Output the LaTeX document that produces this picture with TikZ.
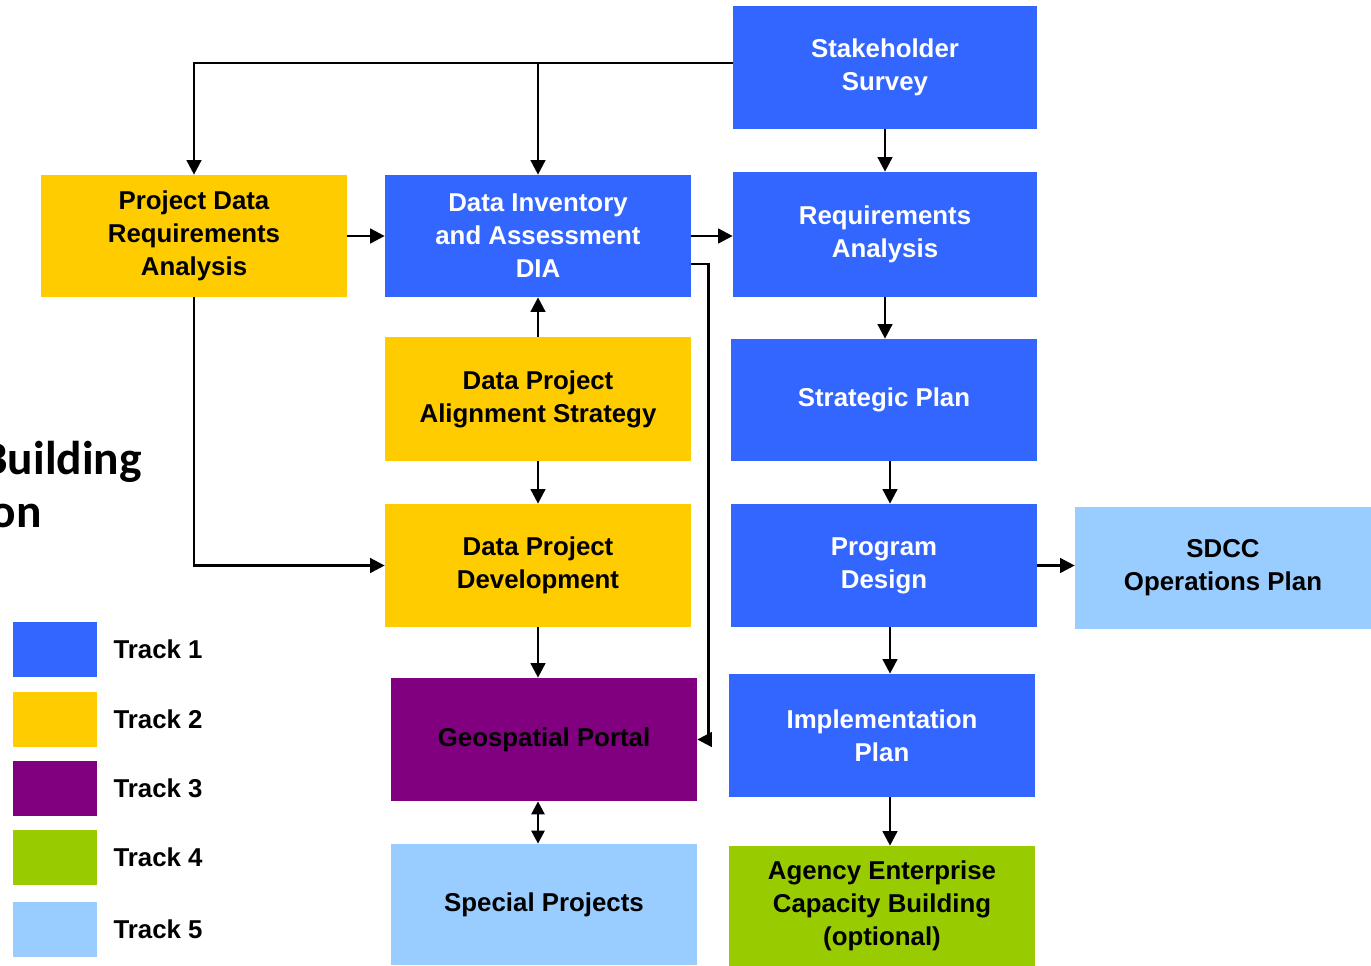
\documentclass[tikz,border=0pt]{standalone}
\usepackage{fontspec}
\setmainfont{Liberation Sans}
\newfontfamily\calibrifont{Carlito}
\usetikzlibrary{arrows.meta, positioning}
\definecolor{trackone}{HTML}{3366FF}
\definecolor{tracktwo}{HTML}{FFCC00}
\definecolor{trackthree}{HTML}{800080}
\definecolor{trackfour}{HTML}{99CC00}
\definecolor{trackfive}{HTML}{99CCFF}

\begin{document}
\begin{tikzpicture}[
    x=0.02cm, y=-0.02cm,
    every node/.style={align=center, font=\fontsize{14.7}{18.8}\selectfont\bfseries},
    box/.style={rectangle, fill=#1, inner sep=0pt, minimum width=6.12cm, minimum height=2.46cm},
    bluebox/.style={box=trackone, text=white},
    yellowbox/.style={box=tracktwo, text=black},
    lightbox/.style={box=trackfive, text=black},
    flow/.style={draw, line width=1.5pt, -{Triangle[length=2.9mm, width=2.9mm]}},
    dblflow/.style={draw, line width=1.5pt, {Triangle[length=2.6mm, width=2.6mm]}-{Triangle[length=2.6mm, width=2.6mm]}}
]
\useasboundingbox (0,0) rectangle (1371,965);

% Track 1 column
\node[bluebox, minimum width=6.08cm] (stake) at (885,67.5) {Stakeholder\\Survey};
\node[bluebox, minimum width=6.08cm, minimum height=2.5cm] (req) at (885,234.5) {Requirements\\Analysis};
\node[bluebox, minimum height=2.44cm] (strat) at (884,400) {Strategic Plan};
\node[bluebox] (prog) at (884,565.5) {Program\\Design};
\node[bluebox] (impl) at (882,735.5) {Implementation\\Plan};
\node[box=trackfour, minimum height=2.4cm] (agency) at (882,906) {Agency Enterprise\\Capacity Building\\(optional)};
\node[lightbox, minimum width=5.92cm, minimum height=2.44cm] (sdcc) at (1223,568) {SDCC\\Operations Plan};

% Track 2 and middle column
\node[yellowbox, minimum height=2.44cm] (pdra) at (194,236) {Project Data\\Requirements\\Analysis};
\node[bluebox, minimum height=2.44cm] (dia) at (538,236) {Data Inventory\\and Assessment\\DIA};
\node[yellowbox, minimum height=2.48cm] (align) at (538,399) {Data Project\\Alignment Strategy};
\node[yellowbox] (dev) at (538,565.5) {Data Project\\Development};
\node[box=trackthree, text=black] (geo) at (544,739.5) {Geospatial Portal};
\node[lightbox, minimum height=2.42cm] (spec) at (544,904.5) {Special Projects};

% Side title (cut off at the left edge)
\node[font=\calibrifont\bfseries\fontsize{27}{30}\selectfont, anchor=base east, inner sep=0pt] (sidetitleA) at (142,474) {Building};
\node[font=\calibrifont\bfseries\fontsize{27}{30}\selectfont, anchor=base east, inner sep=0pt] (sidetitleB) at (42,527) {on};

% Legend
\foreach \col/\lab/\yy [count=\i] in {trackone/Track 1/649.5, tracktwo/Track 2/719.5, trackthree/Track 3/788.5, trackfour/Track 4/857.5, trackfive/Track 5/929.5} {
  \node[box=\col, minimum width=1.68cm, minimum height=1.1cm] (leg\i) at (55,\yy) {};
  \node[right=0.2cm of leg\i] (legtext\i) {\lab};
}

% Survey feeds the left boxes
\coordinate (split) at ([yshift=0.09cm]stake.west -| dia.north);
\draw[flow] ([yshift=0.09cm]stake.west) -| (pdra.north);
\draw[flow] (split) -- (dia.north);

% Middle column edges
\draw[flow] (pdra) -- (dia);
\draw[flow] (dia.east) -- (dia.east -| req.west);
\draw[flow] ([yshift=-0.56cm]dia.east) -- ++(17,0) |- (geo.east);
\draw[flow] (align) -- (dia);
\draw[flow] (align) -- (dev);
\draw[flow] (pdra.south) |- (dev.west);
\draw[flow] (dev.south) -- (dev.south |- geo.north);
\draw[dblflow] (geo.south -| dev.south) -- (spec.north -| dev.south);

% Right column edges
\draw[flow] (stake) -- (req);
\draw[flow] (req.south) -- (req.south |- strat.north);
\draw[flow] ([xshift=0.12cm]strat.south) -- ([xshift=0.12cm]prog.north);
\draw[flow] (prog.east) -- (prog.east -| sdcc.west);
\draw[flow] ([xshift=0.12cm]prog.south) -- ([xshift=0.12cm]prog.south |- impl.north);
\draw[flow] ([xshift=0.16cm]impl.south) -- ([xshift=0.16cm]impl.south |- agency.north);
\end{tikzpicture}
\end{document}
